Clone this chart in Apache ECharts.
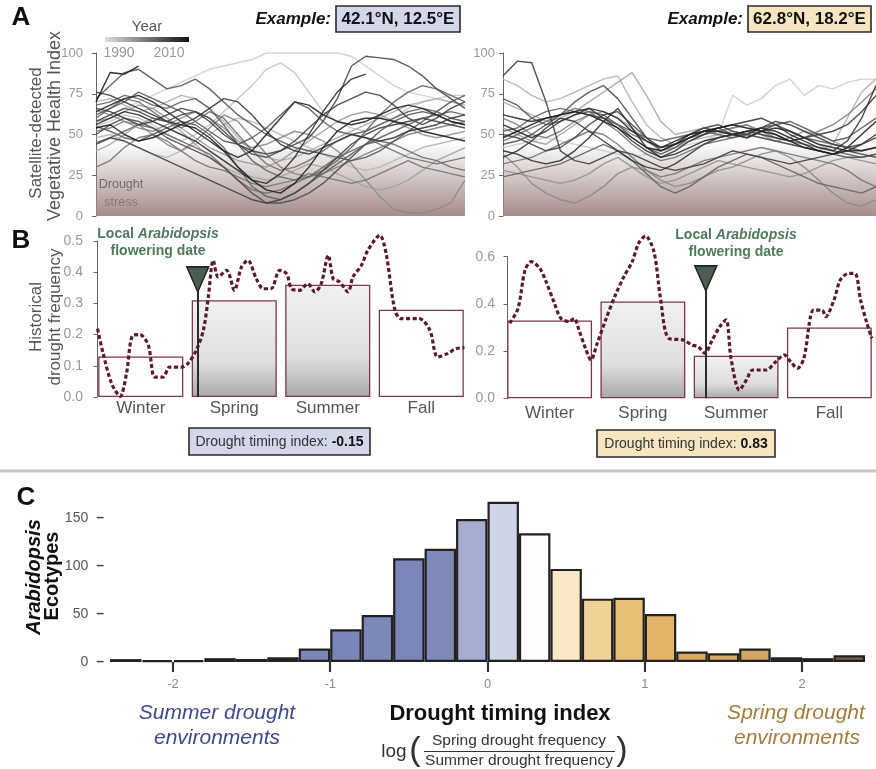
<!DOCTYPE html>
<html>
<head>
<meta charset="utf-8">
<script src="https://cdn.jsdelivr.net/npm/echarts@6/dist/echarts.min.js"></script>
<style>
  html, body { margin: 0; padding: 0; background: #fff; }
  #main { width: 876px; height: 769px; }
</style>
</head>
<body>
<div id="main"></div>
<script>
var FONT = 'Liberation Sans, Arial, sans-serif'

// ---- panel A: weekly vegetative health index, one line per year ----
var weeks = [0, 2, 4, 6, 8, 10, 12, 14, 16, 18, 20, 22, 24, 26, 28, 30, 32, 34, 36, 38, 40, 42, 44, 46, 48, 50, 52]

var yearsLeft = [1983, 1985, 1987, 1989, 1991, 1993, 1995, 1997, 1999, 2000, 2001, 2002, 2003, 2004, 2005, 2006, 2007, 2008, 2009, 2010, 2012, 2014, 2015, 2016]
var vhiLeft = [
  [58, 62, 66, 70, 74, 78, 82, 86, 90, 92, 94, 96, 100, 100, 100, 100, 100, 100, 98, 92, 86, 80, 76, 74, 72, 70, 68],
  [55, 58, 62, 60, 56, 50, 46, 50, 56, 64, 72, 80, 90, 94, 88, 76, 64, 58, 54, 52, 56, 60, 66, 70, 72, 74, 74],
  [48, 50, 46, 42, 38, 36, 40, 44, 50, 56, 60, 58, 54, 50, 46, 42, 38, 34, 30, 28, 30, 34, 38, 42, 44, 46, 48],
  [70, 72, 68, 64, 66, 70, 74, 72, 66, 58, 48, 40, 36, 34, 36, 40, 44, 48, 52, 56, 60, 64, 68, 70, 72, 70, 68],
  [40, 44, 50, 56, 60, 58, 52, 44, 36, 30, 26, 24, 22, 24, 28, 32, 30, 26, 22, 18, 16, 18, 22, 28, 34, 38, 42],
  [58, 60, 64, 68, 66, 60, 54, 48, 42, 38, 34, 32, 30, 34, 40, 46, 52, 58, 62, 64, 62, 58, 54, 50, 48, 50, 52],
  [65, 62, 58, 54, 52, 56, 60, 64, 60, 54, 46, 42, 44, 48, 52, 50, 46, 40, 32, 22, 12, 4, 2, 2, 4, 8, 22],
  [52, 54, 58, 56, 50, 44, 40, 46, 54, 62, 58, 48, 38, 30, 26, 24, 26, 30, 34, 38, 42, 46, 50, 52, 54, 56, 58],
  [30, 34, 42, 48, 50, 46, 40, 34, 30, 28, 24, 20, 18, 20, 22, 26, 24, 22, 20, 22, 26, 30, 34, 30, 28, 26, 24],
  [60, 66, 72, 70, 64, 58, 54, 58, 64, 60, 50, 40, 32, 28, 30, 34, 40, 46, 50, 48, 44, 40, 36, 34, 32, 34, 36],
  [45, 48, 52, 56, 54, 50, 46, 42, 38, 30, 22, 16, 14, 16, 20, 24, 30, 36, 40, 44, 46, 44, 40, 36, 34, 30, 28],
  [68, 70, 74, 72, 68, 66, 70, 72, 66, 56, 44, 34, 28, 24, 22, 24, 28, 34, 42, 52, 62, 70, 76, 80, 78, 74, 70],
  [55, 52, 48, 46, 50, 54, 58, 56, 50, 42, 30, 18, 12, 10, 14, 20, 26, 32, 38, 44, 48, 52, 56, 60, 62, 64, 62],
  [62, 66, 70, 76, 72, 68, 64, 58, 52, 46, 44, 48, 54, 62, 70, 66, 58, 52, 50, 52, 56, 60, 64, 66, 64, 60, 58],
  [72, 80, 88, 90, 84, 78, 80, 84, 78, 70, 62, 56, 50, 46, 42, 40, 38, 36, 34, 36, 40, 46, 52, 58, 64, 70, 74],
  [50, 56, 60, 58, 54, 48, 44, 40, 36, 30, 22, 14, 8, 8, 10, 14, 20, 28, 36, 44, 52, 58, 62, 64, 62, 58, 56],
  [58, 62, 66, 64, 60, 58, 62, 64, 60, 52, 44, 38, 36, 40, 44, 48, 58, 72, 92, 98, 97, 96, 92, 86, 78, 72, 66],
  [44, 48, 46, 42, 38, 34, 30, 26, 22, 18, 14, 10, 8, 10, 14, 20, 28, 36, 44, 50, 54, 56, 58, 60, 58, 56, 54],
  [66, 64, 60, 56, 58, 62, 66, 64, 58, 50, 44, 40, 38, 40, 46, 54, 62, 68, 72, 76, 74, 68, 60, 56, 60, 66, 70],
  [76, 74, 70, 66, 62, 58, 56, 60, 66, 72, 70, 62, 52, 44, 40, 38, 42, 46, 50, 48, 46, 48, 52, 54, 56, 60, 62],
  [56, 60, 64, 62, 58, 54, 50, 46, 40, 34, 28, 22, 20, 26, 36, 50, 64, 76, 84, 87, null, null, null, null, null, null, null],
  [64, 68, 72, 74, 70, 64, 58, 52, 46, 40, 36, 40, 50, 60, 70, 68, 62, 58, 56, 58, 62, 66, 68, 66, 62, 58, 56],
  [54, 56, 50, 46, 48, 52, 56, 54, 48, 40, 30, 22, 16, 14, 20, 30, 42, 52, 58, 60, 60, 58, 56, 52, 50, 48, 46],
  [70, 88, 87, 92, null, null, null, null, null, null, null, null, null, null, null, null, null, null, null, null, null, null, null, null, null, null, null]
]

var yearsRight = [1983, 2009, 1988, 1990, 1992, 1994, 1995, 1997, 1999, 2000, 2002, 2003, 2005, 2006, 2008, 2010, 2011, 2012, 2013, 2015]
var vhiRight = [
  [42, 44, 46, 48, 46, 44, 42, 40, 38, 36, 38, 40, 42, 44, 46, 50, 74, 68, 72, 80, 84, 74, 80, 78, 82, 84, 84],
  [86, 95, 94, 70, 40, 34, 32, 36, 40, 38, 34, 30, 28, 30, 32, 36, 40, 38, 36, 34, 32, 34, 36, 38, 40, 38, 36],
  [84, 80, 74, 70, 72, 76, 80, 84, 86, 70, 56, 48, 44, 46, 48, 50, 52, 50, 48, 46, 44, 42, 40, 44, 60, 76, 84],
  [70, 66, 62, 58, 60, 64, 70, 76, 82, 88, 74, 58, 50, 52, 54, 52, 50, 52, 54, 56, 52, 48, 44, 40, 38, 36, 38],
  [54, 50, 46, 44, 50, 56, 62, 64, 60, 54, 46, 40, 42, 46, 50, 52, 54, 56, 50, 46, 48, 52, 50, 46, 42, 40, 42],
  [28, 26, 24, 22, 20, 22, 26, 32, 36, 30, 24, 20, 22, 26, 30, 34, 32, 30, 28, 26, 24, 26, 30, 34, 36, 34, 32],
  [38, 30, 20, 14, 10, 8, 12, 18, 26, 30, 28, 22, 18, 20, 24, 28, 30, 34, 38, 40, 36, 30, 22, 14, 8, 6, 10],
  [60, 56, 50, 48, 52, 58, 62, 60, 56, 50, 46, 42, 44, 48, 50, 52, 54, 56, 52, 48, 46, 48, 52, 56, 62, 70, 78],
  [32, 34, 36, 40, 44, 48, 52, 50, 44, 36, 28, 24, 26, 30, 34, 36, 38, 40, 42, 40, 38, 36, 34, 32, 28, 22, 18],
  [46, 50, 54, 58, 62, 66, 64, 58, 52, 44, 38, 34, 36, 40, 44, 46, 48, 50, 54, 50, 46, 44, 42, 40, 38, 36, 38],
  [24, 26, 28, 30, 32, 36, 40, 44, 40, 34, 26, 18, 14, 18, 24, 30, 34, 38, 36, 32, 28, 24, 20, 18, 16, 14, 18],
  [52, 54, 60, 64, 66, 64, 62, 60, 56, 52, 48, 46, 48, 50, 52, 50, 48, 50, 54, 56, 52, 48, 46, 44, 42, 40, 42],
  [72, 68, 60, 56, 58, 62, 64, 62, 56, 48, 42, 38, 42, 48, 52, 54, 50, 48, 52, 56, 58, 54, 50, 46, 48, 54, 60],
  [44, 46, 50, 56, 62, 70, 76, 80, 72, 60, 48, 40, 44, 50, 54, 52, 50, 50, 48, 46, 44, 42, 40, 38, 36, 36, 38],
  [50, 48, 44, 40, 42, 48, 56, 62, 64, 56, 48, 42, 44, 50, 54, 56, 52, 50, 54, 58, 56, 52, 48, 44, 42, 44, 48],
  [36, 40, 46, 54, 60, 58, 52, 46, 40, 34, 30, 28, 32, 38, 44, 48, 50, 52, 50, 48, 46, 48, 50, 52, 56, 64, 74],
  [56, 52, 48, 52, 58, 62, 66, 60, 54, 46, 40, 36, 40, 46, 50, 54, 56, 58, 60, 56, 50, 46, 42, 40, 46, 60, 80],
  [40, 38, 34, 32, 34, 40, 48, 58, 66, 54, 42, 36, 38, 42, 46, 48, 50, 52, 54, 52, 48, 44, 40, 38, 40, 44, 50],
  [62, 60, 58, 60, 62, 64, 66, 64, 60, 52, 46, 42, 46, 50, 52, 52, 50, 48, 52, 54, 52, 48, 44, 42, 40, 40, 42],
  [48, 52, 56, 60, 62, 64, 62, 58, 54, 48, 42, 40, 44, 48, 52, 54, 56, 54, 52, 50, 46, 42, 40, 38, 42, 50, 58]
]

// ---- panel B: drought frequency by week and by season ----
var seasons = ['Winter', 'Spring', 'Summer', 'Fall']
var seasonFreqLeft = [0.13, 0.31, 0.36, 0.28]
var seasonFreqRight = [0.33, 0.41, 0.18, 0.30]

var droughtWeekLeft = [0, 0.8, 2.0, 3.2, 4.1, 5.0, 6.0, 7.2, 8.1, 9.3, 10.2, 11.9, 12.8, 14.0, 15.0, 15.7, 16.4, 17.1, 18.3, 19.4, 20.4, 21.3, 22.5, 23.5, 24.6, 25.8, 26.8, 27.5, 28.6, 29.8, 30.8, 31.7, 32.7, 33.4, 34.3, 35.5, 36.2, 37.4, 38.3, 40.0, 40.9, 42.1, 43.0, 45.6, 47.1, 48.2, 49.6, 50.8, 52]
var droughtFreqLeft = [0.219, 0.139, 0.043, 0.002, 0.075, 0.198, 0.2, 0.166, 0.064, 0.064, 0.096, 0.096, 0.107, 0.15, 0.214, 0.32, 0.438, 0.385, 0.406, 0.342, 0.417, 0.438, 0.379, 0.347, 0.347, 0.406, 0.395, 0.347, 0.342, 0.363, 0.337, 0.363, 0.454, 0.379, 0.369, 0.337, 0.385, 0.422, 0.47, 0.518, 0.459, 0.283, 0.251, 0.251, 0.214, 0.128, 0.139, 0.155, 0.158]

var droughtWeekRight = [0.3, 1.5, 2.5, 3.4, 4.6, 5.5, 6.7, 7.6, 8.8, 9.5, 10.2, 11.2, 11.9, 12.8, 14.0, 15.4, 16.6, 17.8, 18.7, 19.7, 20.9, 21.8, 23.0, 25.1, 26.3, 27.2, 28.2, 29.1, 30.3, 31.2, 31.9, 33.1, 34.1, 35.0, 36.9, 38.3, 39.5, 40.4, 41.4, 42.3, 43.7, 44.9, 45.4, 46.6, 47.5, 48.7, 49.6, 50.4, 51.3, 52]
var droughtFreqRight = [0.318, 0.381, 0.544, 0.579, 0.551, 0.494, 0.402, 0.339, 0.325, 0.339, 0.289, 0.205, 0.162, 0.233, 0.332, 0.438, 0.515, 0.579, 0.656, 0.688, 0.621, 0.431, 0.254, 0.247, 0.226, 0.219, 0.191, 0.24, 0.304, 0.332, 0.169, 0.035, 0.078, 0.12, 0.12, 0.155, 0.184, 0.155, 0.127, 0.169, 0.374, 0.374, 0.346, 0.416, 0.501, 0.529, 0.529, 0.416, 0.318, 0.254]

var floweringWeek = [14.2, 28.3]

// ---- panel C: histogram of drought timing index ----
var binLabels = ['-2.4', '-2.2', '-2.0', '-1.8', '-1.6', '-1.4', '-1.2', '-1.0', '-0.8', '-0.6', '-0.4', '-0.2', '0.0', '0.2', '0.4', '0.6', '0.8', '1.0', '1.2', '1.4', '1.6', '1.8', '2.0', '2.2']
var binCounts = [3, 2, 2, 4, 3, 5, 14, 34, 49, 108, 118, 149, 167, 134, 97, 66, 67, 50, 11, 9, 14, 5, 4, 7]
var indexTicks = [-2, -1, 0, 1, 2]

var binColors = ['#141414', '#141414', '#141414', '#1a1a1a', '#1a1a1a', '#2e2e2e', '#7b85b7', '#7b85b7', '#7d87b8', '#7c86b8', '#8189ba', '#a6add0',
  '#d0d4e7', '#fdfdfe', '#f9e8c6', '#f0d397', '#e8c077', '#e3b46a', '#dcab62', '#dba962', '#d5a565', '#5e5244', '#3c3731', '#7c613f']

function grayOf(yr) {
  var t = (yr - 1982) / 34
  var g = Math.round(212 - t * 188)
  return 'rgb(' + g + ',' + g + ',' + g + ')'
}

var droughtShade = {
  silent: true,
  itemStyle: {
    color: {
      type: 'linear', x: 0, y: 0, x2: 0, y2: 1,
      colorStops: [
        { offset: 0, color: 'rgba(160,134,134,0)' },
        { offset: 0.4, color: 'rgba(160,134,134,0.4)' },
        { offset: 1, color: 'rgba(160,134,134,0.95)' }
      ]
    }
  },
  data: [[{ yAxis: 0 }, { yAxis: 45 }]]
}

function vhiSeries(years, rows, axis) {
  var order = years.map(function (y, i) { return i })
  order.sort(function (a, b) { return years[a] - years[b] })
  return order.map(function (i, k) {
    var s = {
      type: 'line',
      xAxisIndex: axis,
      yAxisIndex: axis,
      silent: true,
      showSymbol: false,
      z: 3,
      lineStyle: { color: grayOf(years[i]), width: 1.4, opacity: 0.9 },
      data: weeks.map(function (w, j) { return [w, rows[i][j]] })
    }
    if (k === 0) s.markArea = droughtShade
    return s
  })
}

var greyBar = {
  type: 'linear', x: 0, y: 0, x2: 0, y2: 1,
  colorStops: [
    { offset: 0, color: '#f1f1f1' },
    { offset: 0.65, color: '#dedede' },
    { offset: 1, color: '#a8a8a8' }
  ]
}

function seasonBars(values, shaded, xi, yi) {
  return {
    type: 'bar',
    xAxisIndex: xi,
    yAxisIndex: yi,
    silent: true,
    barCategoryGap: '9%',
    z: 2,
    data: values.map(function (v, i) {
      return {
        value: v,
        itemStyle: { color: shaded[i] ? greyBar : '#ffffff', borderColor: '#7a3a44', borderWidth: 1.3 }
      }
    })
  }
}

function droughtLine(wk, freq, xi, yi, flowerAt, flowerTop) {
  return {
    type: 'line',
    xAxisIndex: xi,
    yAxisIndex: yi,
    silent: true,
    showSymbol: false,
    smooth: 0.3,
    clip: false,
    z: 4,
    lineStyle: { color: '#5c1b2c', width: 3.2, type: [4, 2.5] },
    data: wk.map(function (w, i) { return [w, freq[i]] }),
    markLine: {
      silent: true,
      symbol: ['none', 'none'],
      label: { show: false },
      lineStyle: { color: '#2b2b2b', width: 2, type: 'solid' },
      data: [[{ coord: [flowerAt, 0] }, { coord: [flowerAt, flowerTop] }]]
    }
  }
}

function flowerMarker(flowerAt, y, xi, yi) {
  return {
    type: 'scatter',
    xAxisIndex: xi,
    yAxisIndex: yi,
    silent: true,
    z: 6,
    symbol: 'triangle',
    symbolRotate: 180,
    symbolSize: [22, 25],
    itemStyle: { color: '#4b5e52', borderColor: '#222', borderWidth: 1.5, opacity: 1 },
    data: [[flowerAt, y]]
  }
}

function txt(x, y, text, style, rot) {
  return {
    type: 'text',
    x: x,
    y: y,
    rotation: rot || 0,
    silent: true,
    style: Object.assign({
      text: text,
      fill: '#555',
      fontFamily: FONT,
      fontSize: 14,
      align: 'center',
      verticalAlign: 'middle',
      textAlign: 'center',
      textVerticalAlign: 'middle'
    }, style || {})
  }
}

function box(x, y, w, h, fill) {
  return { type: 'rect', silent: true, shape: { x: x, y: y, width: w, height: h }, style: { fill: fill, stroke: '#2a2a2a', lineWidth: 1.6 } }
}

var richFlower = {
  text: '{n|Local }{i|Arabidopsis}\n{n|flowering date}',
  rich: {
    n: { fill: '#4f7a5c', color: '#4f7a5c', fontFamily: FONT, fontSize: 14, fontWeight: 'bold', lineHeight: 17 },
    i: { fill: '#4f7a5c', color: '#4f7a5c', fontFamily: FONT, fontSize: 14, fontWeight: 'bold', fontStyle: 'italic', lineHeight: 17 }
  }
}

function richIndex(val) {
  return {
    text: '{n|Drought timing index: }{b|' + val + '}',
    rich: {
      n: { fill: '#333', color: '#333', fontFamily: FONT, fontSize: 14 },
      b: { fill: '#111', color: '#111', fontFamily: FONT, fontSize: 14, fontWeight: 'bold' }
    }
  }
}

var vhiAxis = function (grid, offset) {
  return {
    type: 'value', gridIndex: grid, min: 0, max: 100, interval: 25, offset: offset,
    axisLine: { show: true, lineStyle: { color: '#666', width: 1 } },
    axisTick: { show: true, length: 4, lineStyle: { color: '#666' } },
    axisLabel: { color: '#999', fontSize: 13, margin: 5, fontFamily: FONT },
    splitLine: { show: false }
  }
}

var freqAxis = function (grid, max, interval, offset) {
  return {
    type: 'value', gridIndex: grid, min: 0, max: max, interval: interval, offset: offset,
    axisLine: { show: true, lineStyle: { color: '#666', width: 1 } },
    axisTick: { show: true, length: 4, lineStyle: { color: '#666' } },
    axisLabel: { color: '#999', fontSize: 14, margin: 5, fontFamily: FONT, formatter: function (v) { return v.toFixed(1) } },
    splitLine: { show: false }
  }
}

var seasonAxis = function (grid, margin) {
  return {
    type: 'category', gridIndex: grid, data: seasons,
    axisLine: { show: false }, axisTick: { show: false },
    axisLabel: { color: '#555', fontSize: 17, margin: margin, fontFamily: FONT }
  }
}

var myChart = echarts.init(document.getElementById('main'), null, { renderer: 'canvas' })

var option = {
  backgroundColor: '#ffffff',
  animation: false,
  textStyle: { fontFamily: FONT },
  grid: [
    { left: 96, top: 53, width: 369, height: 163 },
    { left: 503, top: 53, width: 373, height: 163 },
    { left: 94, top: 241, width: 374, height: 156 },
    { left: 503, top: 256.7, width: 376, height: 141.6 },
    { left: 110, top: 518, width: 755, height: 144 }
  ],
  xAxis: [
    { type: 'value', gridIndex: 0, min: 0, max: 52, show: false },
    { type: 'value', gridIndex: 1, min: 0, max: 52, show: false },
    seasonAxis(2, 3),
    { type: 'value', gridIndex: 2, min: -0.5, max: 52.5, show: false },
    seasonAxis(3, 7),
    { type: 'value', gridIndex: 3, min: -0.65, max: 52.6, show: false },
    { type: 'category', gridIndex: 4, data: binLabels, show: false },
    {
      type: 'value', gridIndex: 4, min: -2.4, max: 2.4, position: 'bottom',
      axisLine: { show: false },
      axisTick: { show: true, length: 10, customValues: indexTicks, lineStyle: { color: '#333', width: 2.2 } },
      axisLabel: { show: true, customValues: indexTicks, color: '#888', fontSize: 13, margin: 16, fontFamily: FONT },
      splitLine: { show: false }
    }
  ],
  yAxis: [
    vhiAxis(0, 8),
    vhiAxis(1, 3),
    freqAxis(2, 0.5, 0.1, 6),
    freqAxis(3, 0.6, 0.2, 3),
    {
      // counts axis: the short dash after each number stands in for the tick mark
      type: 'value', gridIndex: 4, min: 0, max: 150, interval: 50, offset: 5,
      axisLine: { show: false },
      axisTick: { show: false },
      axisLabel: {
        show: true, margin: 1, fontFamily: FONT,
        formatter: function (v) { return '{v|' + v + '}{t|–}' },
        rich: {
          v: { color: '#555', fontSize: 14, fontFamily: FONT },
          t: { color: '#444', fontSize: 14, fontWeight: 'bold', fontFamily: FONT, padding: [0, 0, 0, 8] }
        }
      },
      splitLine: { show: false }
    }
  ],
  series: [].concat(
    vhiSeries(yearsLeft, vhiLeft, 0),
    vhiSeries(yearsRight, vhiRight, 1),
    [
      seasonBars(seasonFreqLeft, [false, true, true, false], 2, 2),
      droughtLine(droughtWeekLeft, droughtFreqLeft, 3, 2, floweringWeek[0], 0.38),
      flowerMarker(floweringWeek[0], 0.377, 3, 2),
      seasonBars(seasonFreqRight, [false, true, true, false], 4, 3),
      droughtLine(droughtWeekRight, droughtFreqRight, 5, 3, floweringWeek[1], 0.52),
      flowerMarker(floweringWeek[1], 0.508, 5, 3),
      {
        type: 'bar',
        xAxisIndex: 6,
        yAxisIndex: 4,
        silent: true,
        clip: false,
        barCategoryGap: '0%',
        data: binCounts.map(function (c, i) {
          return { value: c, itemStyle: { color: binColors[i], borderColor: '#222', borderWidth: 2.2 } }
        })
      }
    ]
  ),
  graphic: [
    // panel letters
    txt(21, 18, 'A', { fill: '#111', fontSize: 26, fontWeight: 'bold' }),
    txt(21, 241, 'B', { fill: '#111', fontSize: 26, fontWeight: 'bold' }),
    txt(26, 498, 'C', { fill: '#111', fontSize: 26, fontWeight: 'bold' }),

    // year legend
    txt(147, 27, 'Year', { fill: '#555', fontSize: 15 }),
    {
      type: 'rect', silent: true, shape: { x: 105, y: 37, width: 84, height: 5 },
      style: {
        fill: { type: 'linear', x: 0, y: 0, x2: 1, y2: 0, colorStops: [{ offset: 0, color: '#dcdcdc' }, { offset: 1, color: '#111' }] }
      }
    },
    txt(119, 53, '1990', { fill: '#999', fontSize: 14 }),
    txt(169, 53, '2010', { fill: '#999', fontSize: 14 }),

    // example site headers
    txt(331, 19, 'Example:', { fill: '#111', fontSize: 17, fontWeight: 'bold', fontStyle: 'italic', align: 'right', textAlign: 'right' }),
    box(336, 6, 124, 26, '#d4d7ea'),
    txt(398, 19, '42.1°N, 12.5°E', { fill: '#111', fontSize: 17, fontWeight: 'bold' }),
    txt(743, 19, 'Example:', { fill: '#111', fontSize: 17, fontWeight: 'bold', fontStyle: 'italic', align: 'right', textAlign: 'right' }),
    box(748, 6, 123, 26, '#f6e5c1'),
    txt(809.5, 19, '62.8°N, 18.2°E', { fill: '#111', fontSize: 17, fontWeight: 'bold' }),

    // axis titles
    txt(36, 133, 'Satellite-detected', { fontSize: 17 }, Math.PI / 2),
    txt(55, 126, 'Vegetative Health Index', { fontSize: 18 }, Math.PI / 2),
    txt(36, 317, 'Historical', { fontSize: 17 }, Math.PI / 2),
    txt(55, 317, 'drought frequency', { fontSize: 17 }, Math.PI / 2),
    txt(34, 577, '', {
      text: '{i|Arabidopsis}',
      rich: { i: { fill: '#111', color: '#111', fontFamily: FONT, fontSize: 20, fontWeight: 'bold', fontStyle: 'italic' } }
    }, Math.PI / 2),
    txt(52, 576, 'Ecotypes', { fill: '#111', fontSize: 20, fontWeight: 'bold' }, Math.PI / 2),

    // drought stress note
    txt(121, 185, 'Drought', { fill: '#444', fontSize: 12.5 }),
    txt(121, 203, 'stress', { fill: '#444', fontSize: 12.5 }),

    // flowering annotations
    txt(158, 243, '', richFlower),
    txt(736, 244, '', richFlower),

    // timing index boxes
    box(189, 428, 181, 27, '#d4d7ea'),
    txt(279.5, 442, '', richIndex('-0.15')),
    box(597, 430, 178, 27, '#f6e5c1'),
    txt(686, 444, '', richIndex('0.83')),

    // separator
    { type: 'line', silent: true, shape: { x1: 0, y1: 471, x2: 876, y2: 471 }, style: { stroke: '#c8c8c8', lineWidth: 3 } },

    // bottom axis text
    txt(217, 713, 'Summer drought', { fill: '#3c4a8c', fontSize: 21, fontStyle: 'italic' }),
    txt(217, 738, 'environments', { fill: '#3c4a8c', fontSize: 21, fontStyle: 'italic' }),
    txt(796, 713, 'Spring drought', { fill: '#a47b3c', fontSize: 21, fontStyle: 'italic' }),
    txt(797, 738, 'environments', { fill: '#a47b3c', fontSize: 21, fontStyle: 'italic' }),
    txt(500, 714, 'Drought timing index', { fill: '#111', fontSize: 22, fontWeight: 'bold' }),
    txt(394, 752, 'log', { fill: '#333', fontSize: 19 }),
    txt(415, 751, '(', { fill: '#333', fontSize: 34, fontWeight: 'lighter' }),
    txt(622, 751, ')', { fill: '#333', fontSize: 34, fontWeight: 'lighter' }),
    txt(519, 741, 'Spring drought frequency', { fill: '#333', fontSize: 15.5 }),
    { type: 'line', silent: true, shape: { x1: 424, y1: 751.5, x2: 615, y2: 751.5 }, style: { stroke: '#333', lineWidth: 1 } },
    txt(519, 761, 'Summer drought frequency', { fill: '#333', fontSize: 15.5 })
  ]
}

myChart.setOption(option)
</script>
</body>
</html>
